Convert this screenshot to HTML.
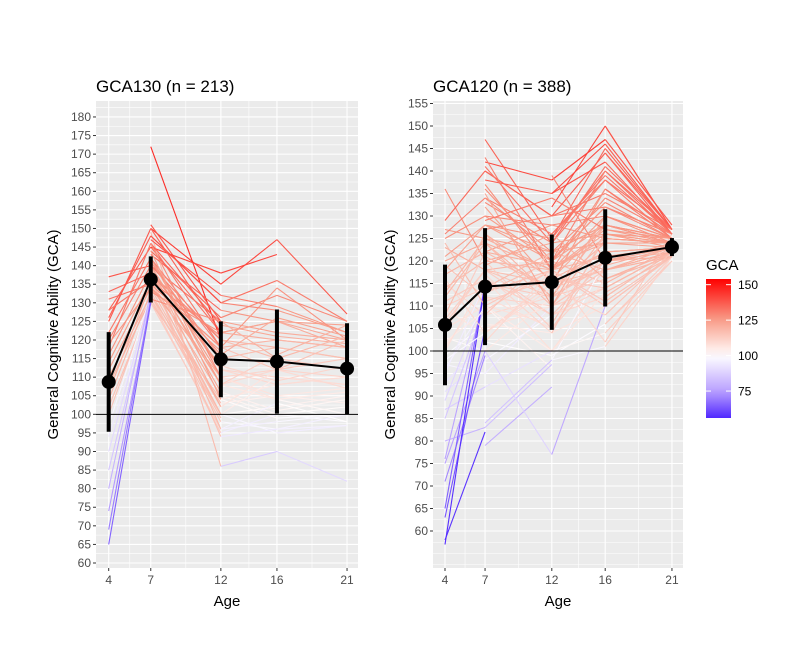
<!DOCTYPE html>
<html><head><meta charset="utf-8">
<style>
html,body{margin:0;padding:0;background:#fff;}
svg{display:block;font-family:"Liberation Sans",Arial,sans-serif;}
</style></head>
<body>
<svg id="chart" width="789" height="656" viewBox="0 0 789 656">
<rect width="789" height="656" fill="#fff"/>
</svg>
<script>
const ages = [4, 7, 12, 16, 21];
const leftTitle = "GCA130 (n = 213)";
const rightTitle = "GCA120 (n = 388)";
const leftYTicks = [60,65,70,75,80,85,90,95,100,105,110,115,120,125,130,135,140,145,150,155,160,165,170,175,180];
const rightYTicks = [60,65,70,75,80,85,90,95,100,105,110,115,120,125,130,135,140,145,150,155];
const leftMeans = [108.7, 136.3, 114.8, 114.2, 112.3];
const leftSD = [13.4, 6.2, 10.2, 14.0, 12.2];
const rightMeans = [105.8, 114.3, 115.3, 120.7, 123.1];
const rightSD = [13.4, 13.0, 10.6, 10.8, 2.0];
const legendTicks = [75, 100, 125, 150];
const leftLines = [
[137,140,125,null,null],[133,138,120,118,115],[131,135,118,null,null],[128,145,122,125,120],
[126,148,130,136,125],[125,150,135,147,127],[122,142,112,110,108],[120,140,110,105,103],
[118,146,118,120,118],[116,138,108,112,110],[114,136,105,100,98],[112,134,100,102,105],
[110,132,98,96,100],[108,131,95,100,102],[106,135,102,null,null],[104,133,99,null,null],
[102,130,104,108,110],[100,131,100,95,97],[97,132,103,105,107],[94,130,96,98,100],
[90,132,null,null,null],[85,131,null,null,null],[80,133,null,null,null],[74,130,null,null,null],
[69,131,null,null,null],[65,130,null,null,null],[null,172,120,null,null],[null,151,125,122,120],
[null,149,86,90,82],[null,147,132,129,122],[null,145,138,143,null],[null,143,128,125,124],
[null,141,115,118,115],[null,139,112,108,110],[null,137,94,96,97],[null,144,126,132,125],
[null,140,120,115,112],[null,138,108,104,100],[null,142,118,134,120],[null,146,124,121,119],
[null,136,100,110,108],[null,134,110,112,120],[null,148,130,128,122],[null,150,122,125,118],
[null,139,106,101,104],
[null,135,118,112,115],[null,133,122,120,118],[null,131,125,115,121],[null,146,110,104,106],
[null,144,104,99,100],[null,140,96,103,98],[null,138,116,126,121],[null,137,113,109,113],
[128,136,121,null,null],[119,134,117,null,null],[null,142,108,116,124],[null,139,102,112,107]
];
const rightLines = [
[136,120,118,125,124],[129,140,130,135,127],[127,125,122,128,125],[125,130,120,132,126],
[123,118,115,122,123],[121,128,125,140,127],[119,112,110,118,122],[117,122,128,125,124],
[115,108,112,120,121],[113,125,118,130,125],[111,116,108,112,122],[109,104,115,118,121],
[107,118,120,115,123],[105,110,106,125,124],[103,100,112,116,122],[101,113,118,121,123],
[99,106,104,110,121],[97,95,110,114,122],[95,115,112,119,123],[93,102,99,106,121],
[91,98,108,112,122],[89,112,105,118,121],[87,92,100,104,120],[85,110,96,null,null],
[80,83,97,null,null],[76,113,118,null,null],[75,100,null,null,null],[71,99,null,null,null],
[65,115,null,null,null],[63,105,null,null,null],[58,82,null,null,null],[57,115,null,null,null],
[null,147,125,145,127],[null,142,138,147,128],[null,140,130,144,127],[null,138,135,142,126],
[null,136,120,140,126],[null,134,126,138,125],[null,132,115,136,125],[null,130,128,130,124],
[null,128,122,133,125],[null,126,116,128,124],[null,124,110,126,123],[null,122,119,124,124],
[null,120,105,122,123],[null,118,112,120,122],[null,116,100,116,121],[null,79,92,null,null],
[null,84,98,120,null],[null,100,77,110,null],[null,143,118,102,126],[null,141,124,138,127],
[null,null,139,120,124],[null,null,135,146,127],[null,null,132,150,127],[null,null,98,101,121],
[null,null,null,150,127],[null,null,null,144,126],[null,null,null,106,120],
[126,134,122,128,125],[124,110,118,127,124],[120,124,112,130,125],[118,128,120,134,126],
[116,104,116,122,123],[114,120,124,126,124],[112,124,118,136,126],[110,114,122,118,123],
[108,126,112,128,125],[106,118,108,114,122],[104,122,114,124,124],[102,109,118,110,121],
[100,116,108,120,123],[98,104,114,118,122],[96,110,100,113,121],[null,137,118,126,125],
[null,133,124,141,127],[null,127,130,132,126],[null,121,114,108,122],[null,119,126,116,122],
[null,117,104,126,124],[null,113,120,128,124],[null,111,116,114,122],[null,108,122,124,123],
[null,105,110,118,122],[null,102,118,111,121],[null,135,110,130,125],[null,129,134,127,125],
[null,null,126,139,126],[null,null,120,132,125]
];

const NS = "http://www.w3.org/2000/svg";
const svg = document.getElementById("chart");
function mk(tag, attrs, parent){
  const e = document.createElementNS(NS, tag);
  for (const k in attrs) e.setAttribute(k, attrs[k]);
  (parent||svg).appendChild(e);
  return e;
}
function lerp(a,b,t){return Math.round(a+(b-a)*t);}
function mix(stops, t){
  for (let i=1;i<stops.length;i++){
    if (t<=stops[i][0]){
      const s0=stops[i-1], s1=stops[i];
      const u=(t-s0[0])/(s1[0]-s0[0]);
      return `rgb(${lerp(s0[1],s1[1],u)},${lerp(s0[2],s1[2],u)},${lerp(s0[3],s1[3],u)})`;
    }
  }
  const s=stops[stops.length-1]; return `rgb(${s[1]},${s[2]},${s[3]})`;
}
const hiStops=[[0,255,255,255],[0.46,248,158,138],[1,255,0,0]];
const loStops=[[0,255,255,255],[0.57,185,160,255],[1,80,40,255]];
function colorOf(v){
  if (v>=100) return mix(hiStops, Math.min(1,(v-100)/54));
  return mix(loStops, Math.min(1,(100-v)/44));
}

function panel(cfg){
  const {px0,px1,py0,py1,xOf,yOf,yTicks,minorY,lines,means,sd,title,name} = cfg;
  const g = mk("g",{});
  
  
  const bg = mk("rect",{x:px0,y:py0,width:px1-px0,height:py1-py0,fill:"#EBEBEB"},g);
  
  
  minorY.forEach(v=>{
    const y=yOf(v); if(y<py0||y>py1) return;
    const l = mk("line",{x1:px0,x2:px1,y1:y,y2:y,stroke:"#fff","stroke-width":0.6},g);
    
    
  });
  for (let i=0;i<ages.length-1;i++){
    const x=xOf((ages[i]+ages[i+1])/2);
    const l = mk("line",{x1:x,x2:x,y1:py0,y2:py1,stroke:"#fff","stroke-width":0.6},g);
    
    
  }
  yTicks.forEach(v=>{
    const y=yOf(v);
    const l = mk("line",{x1:px0,x2:px1,y1:y,y2:y,stroke:"#fff","stroke-width":1.1},g);
    
    
    const t = mk("line",{x1:px0-3,x2:px0,y1:y,y2:y,stroke:"#333","stroke-width":1},g);
    
    
    const tx = mk("text",{x:px0-5,y:y+4,"text-anchor":"end","font-size":12,fill:"#4D4D4D"},g);
    tx.textContent=v;
    
    
  });
  ages.forEach(a=>{
    const x=xOf(a);
    const l = mk("line",{x1:x,x2:x,y1:py0,y2:py1,stroke:"#fff","stroke-width":1.1},g);
    
    
    const t = mk("line",{x1:x,x2:x,y1:py1,y2:py1+3,stroke:"#333","stroke-width":1},g);
    
    
    const tx = mk("text",{x:x,y:py1+16,"text-anchor":"middle","font-size":12,fill:"#4D4D4D"},g);
    tx.textContent=a;
    
    
  });
  const cp = mk("clipPath",{id:`clip-${name}`},g);
  mk("rect",{x:px0,y:py0,width:px1-px0,height:py1-py0},cp);
  const lg = mk("g",{"clip-path":`url(#clip-${name})`},g);
  lines.forEach(row=>{
    for (let i=0;i<row.length-1;i++){
      if (row[i]==null||row[i+1]==null) continue;
      const cv = row[i] < 100 ? row[i] : (row[i]+row[i+1])/2;
      const s = mk("line",{x1:xOf(ages[i]),y1:yOf(row[i]),x2:xOf(ages[i+1]),y2:yOf(row[i+1]),stroke:colorOf(cv),"stroke-width":1.1},lg);
      
      
    }
  });
  const ref = mk("line",{x1:px0,x2:px1,y1:yOf(100),y2:yOf(100),stroke:"#000","stroke-width":1},g);
  
  
  means.forEach((m,i)=>{
    const e = mk("line",{x1:xOf(ages[i]),x2:xOf(ages[i]),y1:yOf(m-sd[i]),y2:yOf(m+sd[i]),stroke:"#000","stroke-width":4},g);
    
    
  });
  const pts = means.map((m,i)=>xOf(ages[i])+","+yOf(m)).join(" ");
  const ml = mk("polyline",{points:pts,fill:"none",stroke:"#000","stroke-width":2},g);
  
  
  means.forEach((m,i)=>{
    const c = mk("circle",{cx:xOf(ages[i]),cy:yOf(m),r:7,fill:"#000"},g);
    
    
  });
  const tt = mk("text",{x:px0,y:py0-9,"font-size":17,fill:"#000"},g);
  tt.textContent=title;
  
  
  const xt = mk("text",{x:(px0+px1)/2,y:py1+38,"text-anchor":"middle","font-size":15,fill:"#000"},g);
  xt.textContent="Age";
  
  
  const cy=(py0+py1)/2, cx=px0-38;
  const yt = mk("text",{x:cx,y:cy,"text-anchor":"middle","font-size":15,fill:"#000",transform:`rotate(-90 ${cx} ${cy})`},g);
  yt.textContent="General Cognitive Ability (GCA)";
  
  
}

const minorL=[]; for(let v=57.5; v<=185; v+=5) minorL.push(v);
const minorR=[52.5,55]; for(let v=57.5; v<=157.5; v+=5) minorR.push(v);

panel({px0:96,px1:358,py0:101,py1:568,
  xOf:a=>108.7+(a-4)*14.02, yOf:v=>563-(v-60)*3.717,
  yTicks:leftYTicks,minorY:minorL,lines:leftLines,means:leftMeans,sd:leftSD,title:leftTitle,name:"panel-gca130"});
panel({px0:433,px1:683,py0:101,py1:568,
  xOf:a=>445+(a-4)*13.35, yOf:v=>531-(v-60)*4.5,
  yTicks:rightYTicks,minorY:minorR,lines:rightLines,means:rightMeans,sd:rightSD,title:rightTitle,name:"panel-gca120"});

const lgG = mk("g",{});


const defs = mk("defs",{},lgG);
const grad = mk("linearGradient",{id:"gcaGrad",x1:0,y1:1,x2:0,y2:0},defs);
const lgMin=56, lgMax=154;
for (let v=lgMin; v<=lgMax; v+=7){
  mk("stop",{offset:((v-lgMin)/(lgMax-lgMin)).toFixed(3),"stop-color":colorOf(v)},grad);
}
mk("stop",{offset:1,"stop-color":colorOf(lgMax)},grad);
const barTop=279, barBot=418;
const lgY=v=>barBot-(v-lgMin)/(lgMax-lgMin)*(barBot-barTop);
const bar = mk("rect",{x:706,y:barTop,width:25,height:barBot-barTop,fill:"url(#gcaGrad)"},lgG);


legendTicks.forEach(v=>{
  const y=lgY(v);
  mk("line",{x1:706,x2:711,y1:y,y2:y,stroke:"#fff","stroke-width":1},lgG);
  mk("line",{x1:726,x2:731,y1:y,y2:y,stroke:"#fff","stroke-width":1},lgG);
  const t = mk("text",{x:738,y:y+4.5,"font-size":12,fill:"#000"},lgG);
  t.textContent=v;
  
  
});
const lt = mk("text",{x:706,y:270,"font-size":15,fill:"#000"},lgG);
lt.textContent="GCA";


</script>
</body></html>
